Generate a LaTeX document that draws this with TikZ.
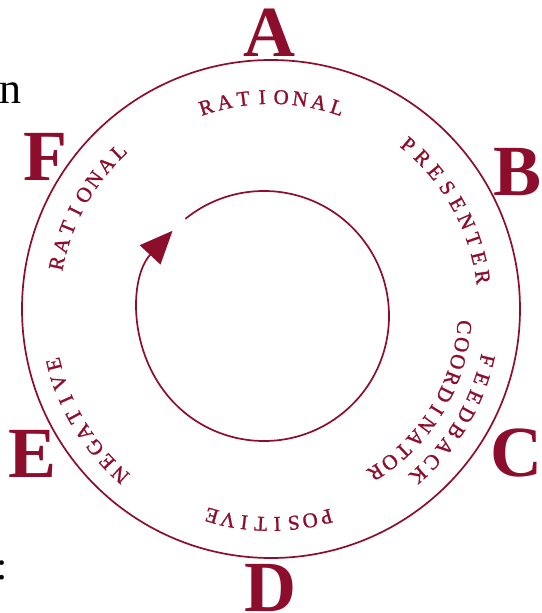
\documentclass[tikz,border=0pt]{standalone}
\usepackage{fontspec}
\setmainfont{Liberation Serif}
\newfontfamily\arcfont[FakeBold=1.2]{Liberation Serif}
\usetikzlibrary{arrows.meta,calc}
\definecolor{wine}{RGB}{140,14,44}
\tikzset{
  ring/.style={draw=wine, line width=1.7pt},
  bigletter/.style={text=wine, font=\fontsize{72}{72}\selectfont\bfseries, inner sep=0pt, anchor=base},
  arcletter/.style={text=wine, font=\fontsize{21}{21}\selectfont\arcfont, inner sep=0pt, anchor=center},
  plaintext/.style={text=black, inner sep=0pt, anchor=base}
}
% #1 name, #2 start angle, #3 step, #4 radius, #5 letters
\newcommand\arcword[5]{%
  \foreach \ch [count=\i from 0] in {#5} {
    \pgfmathsetmacro\ang{#2-\i*#3}
    \node[arcletter, rotate=\ang-90] (#1-\i) at ($(tc)+(\ang:#4)$) {\ch};
  }}
\begin{document}
\begin{tikzpicture}[x=1pt,y=1pt]
\useasboundingbox (0,0) rectangle (541,-613);
\coordinate (tc) at (271,-309);
\coordinate (ic) at (264,-316);
% outer ring
\draw[ring] (tc) circle[radius=249pt];
% inner cycle arrow
\coordinate (istart) at ($(ic)+(129:125pt)$);
\draw[ring, -{Triangle[length=33pt,width=28pt]}] (istart) arc[start angle=129, end angle=-223, radius=125pt];
% big letters
\node[bigletter] (A) at (269,-56) {A};
\node[bigletter] (B) at (518,-195) {B};
\node[bigletter] (C) at (516,-476) {C};
\node[bigletter] (D) at (270,-611) {D};
\node[bigletter] (E) at (33,-477) {E};
\node[bigletter] (F) at (45,-180) {F};
% side texts
\node[plaintext, font=\fontsize{44}{44}\selectfont] (n) at (10,-103) {n};
\node[plaintext, font=\fontsize{40}{40}\selectfont] (colon) at (2,-579) {:};
% curved words
\arcword{ra}{107.8}{5.14}{212pt}{R,A,T,I,O,N,A,L}
\arcword{pr}{50.1}{5.19}{214pt}{P,R,E,S,E,N,T,E,R}
\arcword{fe}{-13.4}{5.01}{222pt}{F,E,E,D,B,A,C,K}
\arcword{co}{-5.4}{5.2}{194pt}{C,O,O,R,D,I,N,A,T,O,R}
\arcword{po}{-75.1}{4.41}{215pt}{P,O,S,I,T,I,V,E}
\arcword{ne}{227.7}{4.77}{224pt}{N,E,G,A,T,I,V,E}
\arcword{rl}{167.9}{4.83}{219pt}{R,A,T,I,O,N,A,L}
\end{tikzpicture}
\end{document}
